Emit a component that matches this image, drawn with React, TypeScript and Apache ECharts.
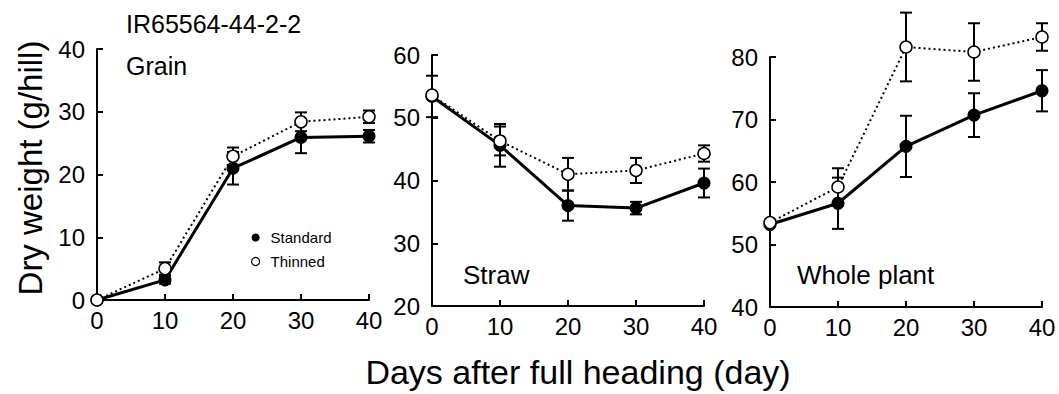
import React, { useEffect, useRef } from "react";
import * as echarts from "echarts";

const days = [0, 10, 20, 30, 40];

const grainStd = [0, 3.2, 21, 25.9, 26.1];
const grainStdErr = [0, 0.6, 2.6, 2.5, 1];
const grainThin = [0, 5, 22.9, 28.4, 29.2];
const grainThinErr = [0, 1, 1.4, 1.5, 1];

const strawStd = [53.4, 45.6, 36, 35.6, 39.6];
const strawStdErr = [3.3, 3.4, 2.4, 1, 2.3];
const strawThin = [53.6, 46.3, 41, 41.6, 44.3];
const strawThinErr = [0, 2.3, 2.6, 2, 1.3];

const wholeStd = [53.2, 56.6, 65.7, 70.7, 74.6];
const wholeStdErr = [0, 4.1, 4.9, 3.5, 3.3];
const wholeThin = [53.5, 59.2, 81.6, 80.8, 83.2];
const wholeThinErr = [0, 3, 5.5, 4.6, 2.2];

const yMins = [0, 20, 40];
const yMaxs = [40, 60, 80];
const panelLabels = ["Grain", "Straw", "Whole plant"];

const FONT = "'Liberation Sans', Arial, sans-serif";

const panels = [
  { std: grainStd, stdErr: grainStdErr, thin: grainThin, thinErr: grainThinErr },
  { std: strawStd, stdErr: strawStdErr, thin: strawThin, thinErr: strawThinErr },
  { std: wholeStd, stdErr: wholeStdErr, thin: wholeThin, thinErr: wholeThinErr },
];

function errRender(params: any, api: any) {
  const x = api.value(0);
  const lo = api.value(1);
  const hi = api.value(2);
  if (!(hi > lo)) return { type: "group", children: [] };
  const p1 = api.coord([x, lo]);
  const p2 = api.coord([x, hi]);
  const w = 6;
  const st = { stroke: "#000", lineWidth: 2 };
  return {
    type: "group",
    children: [
      { type: "line", shape: { x1: p1[0], y1: p1[1], x2: p2[0], y2: p2[1] }, style: st },
      { type: "line", shape: { x1: p1[0] - w, y1: p1[1], x2: p1[0] + w, y2: p1[1] }, style: st },
      { type: "line", shape: { x1: p2[0] - w, y1: p2[1], x2: p2[0] + w, y2: p2[1] }, style: st },
    ],
  };
}

export default function App() {
  const ref = useRef<HTMLDivElement>(null);
  useEffect(() => {
    if (!ref.current) return;
    const chart = echarts.init(ref.current, null, { renderer: "svg" });

    const grids = [
      { left: 97, top: 49, width: 272, height: 251 },
      { left: 432, top: 55, width: 272, height: 251 },
      { left: 770, top: 57, width: 272, height: 250 },
    ];

    const axisCommon = {
      axisLine: { lineStyle: { color: "#000", width: 2 } },
      axisTick: { inside: true, length: 6, lineStyle: { color: "#000", width: 2 } },
      splitLine: { show: false },
    };

    const xAxes = grids.map((_, i) => ({
      type: "value",
      gridIndex: i,
      min: 0,
      max: 40,
      interval: 10,
      ...axisCommon,
      axisLabel: { color: "#000", fontSize: 24, fontFamily: FONT, margin: 8 },
    }));
    const yAxes = grids.map((_, i) => ({
      type: "value",
      gridIndex: i,
      min: yMins[i],
      max: yMaxs[i],
      interval: 10,
      ...axisCommon,
      axisLabel: { color: "#000", fontSize: 24, fontFamily: FONT, margin: 12 },
    }));

    const series: any[] = [];
    panels.forEach((p, i) => {
      series.push({
        name: "errStd" + i,
        type: "custom",
        xAxisIndex: i,
        yAxisIndex: i,
        renderItem: errRender,
        encode: { x: 0, y: [1, 2] },
        data: days.map((d, j) => [d, p.std[j] - p.stdErr[j], p.std[j] + p.stdErr[j]]),
        z: 2,
        silent: true,
      });
      series.push({
        name: "errThin" + i,
        type: "custom",
        xAxisIndex: i,
        yAxisIndex: i,
        renderItem: errRender,
        encode: { x: 0, y: [1, 2] },
        data: days.map((d, j) => [d, p.thin[j] - p.thinErr[j], p.thin[j] + p.thinErr[j]]),
        z: 2,
        silent: true,
      });
      series.push({
        name: "Standard",
        type: "line",
        xAxisIndex: i,
        yAxisIndex: i,
        clip: false,
        data: days.map((d, j) => [d, p.std[j]]),
        symbol: "circle",
        symbolSize: 13,
        itemStyle: { color: "#000" },
        lineStyle: { color: "#000", width: 3 },
        z: 3,
      });
      series.push({
        name: "Thinned",
        type: "line",
        xAxisIndex: i,
        yAxisIndex: i,
        clip: false,
        data: days.map((d, j) => [d, p.thin[j]]),
        symbol: "circle",
        symbolSize: 12,
        showAllSymbol: true,
        itemStyle: { color: "#fff", borderColor: "#000", borderWidth: 1.5 },
        lineStyle: { color: "#000", width: 2, type: [2, 3] },
        z: 4,
      });
    });

    const textStyle = (text: string, size: number) => ({
      text,
      fontSize: size,
      fontFamily: FONT,
      fill: "#000",
      verticalAlign: "middle",
      textVerticalAlign: "middle",
    });

    chart.setOption({
      animation: false,
      grid: grids,
      xAxis: xAxes,
      yAxis: yAxes,
      legend: {
        orient: "vertical",
        left: 246,
        top: 225,
        itemWidth: 20,
        itemHeight: 8,
        itemGap: 9,
        textStyle: { color: "#000", fontSize: 15, fontFamily: FONT },
        data: [
          { name: "Standard", icon: "circle", itemStyle: { color: "#000", borderColor: "#000", borderWidth: 0 } },
          { name: "Thinned", icon: "circle", itemStyle: { color: "#fff", borderColor: "#000", borderWidth: 1.2 } },
        ],
        selectedMode: false,
      },
      series,
      graphic: [
        { type: "text", x: 126, y: 24, style: textStyle("IR65564-44-2-2", 25) },
        { type: "text", x: 126, y: 66, style: textStyle(panelLabels[0], 25) },
        { type: "text", x: 463, y: 275, style: textStyle(panelLabels[1], 26) },
        { type: "text", x: 797, y: 275, style: textStyle(panelLabels[2], 26) },
        {
          type: "text",
          x: 30,
          y: 168,
          rotation: Math.PI / 2,
          style: { ...textStyle("Dry weight (g/hill)", 33), align: "center", textAlign: "center" },
        },
        {
          type: "text",
          x: 578,
          y: 372,
          style: { ...textStyle("Days after full heading (day)", 34), align: "center", textAlign: "center" },
        },
      ],
    });
    return () => chart.dispose();
  }, []);
  return (
    <div
      ref={ref}
      style={{ position: "fixed", left: 0, top: 0, width: 1059, height: 394, background: "#fff" }}
    />
  );
}
